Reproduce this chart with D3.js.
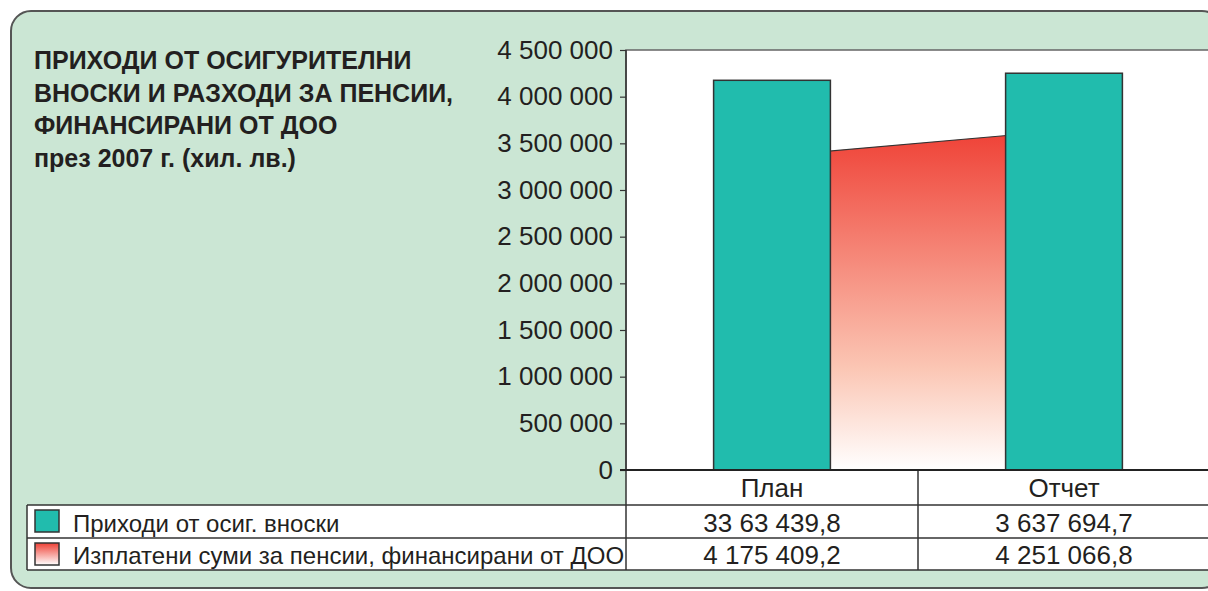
<!DOCTYPE html>
<html>
<head>
<meta charset="utf-8">
<script src="https://cdn.jsdelivr.net/npm/d3@7"></script>
<style>
  body { margin: 0; background: #fff; }
  svg { display: block; font-family: "Liberation Sans", Arial, sans-serif; }
</style>
</head>
<body>
<svg id="chart" width="1208" height="591"></svg>
<script>
// Chart data
const categories = ['План', 'Отчет'];
const contributions = [3363439.8, 3637694.7];
const contributionsText = ['33 63 439,8', '3 637 694,7'];
const pensions = [4175409.2, 4251066.8];
const pensionsText = ['4 175 409,2', '4 251 066,8'];
const seriesNames = ['Приходи от осиг. вноски', 'Изплатени суми за пенсии, финансирани от ДОО'];
const titleLines = ['ПРИХОДИ ОТ ОСИГУРИТЕЛНИ', 'ВНОСКИ И РАЗХОДИ ЗА ПЕНСИИ,', 'ФИНАНСИРАНИ ОТ ДОО', 'през 2007 г. (хил. лв.)'];
const yTicks = d3.range(0, 4500001, 500000);

const svg = d3.select('#chart');
const teal = '#21bcad';
const bg = '#cbe6d4';
const ink = '#231f20';

const locale = d3.formatLocale({ decimal: ',', thousands: ' ', grouping: [3], currency: ['', ''] });
const fmt = locale.format(',');

// plot geometry
const plotLeft = 626, plotRight = 1210, plotTop = 50, plotBottom = 470;
const rowY = [470, 505, 538, 570];
const tableLeft = 27;

// gradient for the area series
const defs = svg.append('defs');
const grad = defs.append('linearGradient').attr('id', 'redGrad')
    .attr('x1', 0).attr('y1', 0).attr('x2', 0).attr('y2', 1);
grad.append('stop').attr('offset', '0%').attr('stop-color', '#ef4136');
grad.append('stop').attr('offset', '70%').attr('stop-color', '#fbc6b4');
grad.append('stop').attr('offset', '100%').attr('stop-color', '#ffffff');

// background panel
svg.append('rect')
    .attr('x', 11).attr('y', 11).attr('width', 1211).attr('height', 577)
    .attr('rx', 20).attr('ry', 20)
    .attr('fill', bg).attr('stroke', '#555').attr('stroke-width', 2);

// title
svg.append('text')
    .attr('x', 34).attr('font-size', 25).attr('font-weight', 'bold').attr('fill', ink)
    .selectAll('tspan')
    .data(titleLines)
    .join('tspan')
    .attr('x', 34)
    .attr('y', (d, i) => 69 + i * 32.5)
    .text(d => d);

const x = d3.scaleBand().domain(categories).range([plotLeft, plotRight]);
const y = d3.scaleLinear().domain([0, 4500000]).range([plotBottom, plotTop]);
const bw = x.bandwidth();

// plot area
svg.append('rect')
    .attr('x', plotLeft).attr('y', plotTop).attr('width', plotRight - plotLeft).attr('height', plotBottom - plotTop)
    .attr('fill', '#fff').attr('stroke', '#666').attr('stroke-width', 1.5);

// area series (drawn behind bars)
const areaData = categories.map((c, i) => ({ cat: c, v: contributions[i] }));
svg.append('path')
    .datum(areaData)
    .attr('fill', 'url(#redGrad)')
    .attr('d', d3.area().x(d => x(d.cat) + bw / 2).y0(y(0)).y1(d => y(d.v)));
svg.append('path')
    .datum(areaData)
    .attr('fill', 'none').attr('stroke', '#333').attr('stroke-width', 1.2)
    .attr('d', d3.line().x(d => x(d.cat) + bw / 2).y(d => y(d.v)));

// bars
svg.append('g')
    .selectAll('rect')
    .data(categories)
    .join('rect')
    .attr('x', d => x(d) + bw * 0.3)
    .attr('width', bw * 0.4)
    .attr('y', (d, i) => y(pensions[i]))
    .attr('height', (d, i) => y(0) - y(pensions[i]))
    .attr('fill', teal).attr('stroke', '#333').attr('stroke-width', 1.5);

// y axis
const yAxis = svg.append('g')
    .attr('transform', `translate(${plotLeft},0)`)
    .call(d3.axisLeft(y).tickValues(yTicks).tickFormat(fmt).tickSize(6).tickPadding(7));
yAxis.select('.domain').remove();
yAxis.selectAll('line').attr('stroke', '#333').attr('stroke-width', 1.2);
yAxis.selectAll('text')
    .attr('font-size', 26).attr('fill', ink)
    .attr('font-family', '"Liberation Sans", Arial, sans-serif');

// table cells
svg.append('rect')
    .attr('x', plotLeft).attr('y', rowY[0]).attr('width', plotRight - plotLeft).attr('height', rowY[1] - rowY[0])
    .attr('fill', '#fff');
svg.append('rect')
    .attr('x', tableLeft).attr('y', rowY[1]).attr('width', plotRight - tableLeft).attr('height', rowY[3] - rowY[1])
    .attr('fill', '#fff');

const lines = svg.append('g').attr('stroke', '#333').attr('stroke-width', 1.5);
lines.append('line').attr('x1', tableLeft).attr('x2', plotRight).attr('y1', rowY[1]).attr('y2', rowY[1]);
lines.append('line').attr('x1', tableLeft).attr('x2', plotRight).attr('y1', rowY[2]).attr('y2', rowY[2]);
lines.append('line').attr('x1', tableLeft).attr('x2', plotRight).attr('y1', rowY[3]).attr('y2', rowY[3]);
lines.append('line').attr('x1', tableLeft).attr('x2', tableLeft).attr('y1', rowY[1]).attr('y2', rowY[3]);
lines.append('line').attr('x1', plotLeft).attr('x2', plotLeft).attr('y1', plotTop).attr('y2', rowY[3]);
lines.append('line').attr('x1', x(categories[1])).attr('x2', x(categories[1])).attr('y1', rowY[0]).attr('y2', rowY[3]);
// x axis baseline
svg.append('line').attr('x1', plotLeft - 6).attr('x2', plotRight).attr('y1', plotBottom).attr('y2', plotBottom)
    .attr('stroke', '#222').attr('stroke-width', 2.2);

// category labels
svg.append('g')
    .selectAll('text')
    .data(categories)
    .join('text')
    .attr('x', d => x(d) + bw / 2)
    .attr('y', 497)
    .attr('text-anchor', 'middle')
    .attr('font-size', 26).attr('fill', ink)
    .text(d => d);

// table values
const rows = [contributionsText, pensionsText];
const rowBase = [532, 564];
rows.forEach((vals, r) => {
    svg.append('g')
        .selectAll('text')
        .data(vals)
        .join('text')
        .attr('x', (d, i) => x(categories[i]) + bw / 2)
        .attr('y', rowBase[r])
        .attr('text-anchor', 'middle')
        .attr('font-size', 26).attr('fill', ink)
        .text(d => d);
});

// legend
const swGrad = defs.append('linearGradient').attr('id', 'swGrad')
    .attr('x1', 0).attr('y1', 0).attr('x2', 0).attr('y2', 1);
swGrad.append('stop').attr('offset', '0%').attr('stop-color', '#ef4136');
swGrad.append('stop').attr('offset', '100%').attr('stop-color', '#ffffff');
const swatchFill = [teal, 'url(#swGrad)'];

seriesNames.forEach((name, i) => {
    svg.append('rect')
        .attr('x', 35).attr('y', rowY[i + 1] + 5).attr('width', 24).attr('height', 22)
        .attr('fill', swatchFill[i]).attr('stroke', '#333').attr('stroke-width', 1.5);
    svg.append('text')
        .attr('x', 73).attr('y', rowBase[i])
        .attr('font-size', 24).attr('fill', ink)
        .text(name);
});
</script>
</body>
</html>
